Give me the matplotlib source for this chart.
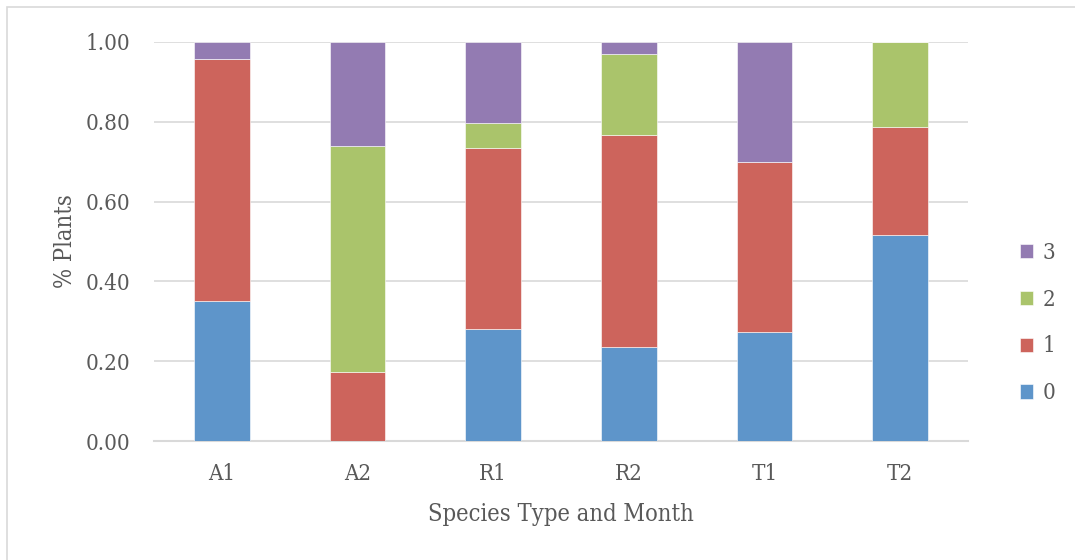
import numpy as np
import matplotlib.pyplot as plt
from matplotlib.patches import Rectangle

# Share of plants in each class, per species type and month
groups = ['A1', 'A2', 'R1', 'R2', 'T1', 'T2']
class0 = [0.351, 0.000, 0.281, 0.236, 0.273, 0.516]
class1 = [0.606, 0.173, 0.453, 0.531, 0.426, 0.271]
class2 = [0.000, 0.566, 0.063, 0.203, 0.000, 0.213]
class3 = [0.043, 0.261, 0.203, 0.030, 0.301, 0.000]

series = [('0', class0, '#5E95CA'),
          ('1', class1, '#CD645C'),
          ('2', class2, '#AAC46B'),
          ('3', class3, '#937BB2')]

plt.rcParams['font.family'] = ['DejaVu Serif']
plt.rcParams['font.stretch'] = 'condensed'
text_color = '#595959'

fig = plt.figure(figsize=(10.75, 5.6), dpi=100)
ax = fig.add_axes([154 / 1075, 1 - 441 / 560, (968 - 154) / 1075, 399 / 560])

# light frame around the chart area
fig.patches.append(Rectangle((7 / 1075, -0.1), 1.2, 1 - 7 / 560 + 0.1,
                             transform=fig.transFigure, fill=False,
                             edgecolor='#D9D9D9', linewidth=1.2))

x = np.arange(len(groups))
bottom = np.zeros(len(groups))
handles = []
for label, vals, color in series:
    vals = np.array(vals)
    h = ax.bar(x, vals, width=0.41, bottom=bottom, color=color, label=label,
               edgecolor='white', linewidth=0.4, zorder=3)
    handles.append(h)
    bottom += vals

ax.set_xlim(-0.5, len(groups) - 0.5)
ax.set_ylim(0, 1.0)
ax.set_yticks(np.arange(0, 1.01, 0.2))
ax.set_yticklabels([f'{v:.2f}' for v in np.arange(0, 1.01, 0.2)])
ax.set_xticks(x)
ax.set_xticklabels(groups)
ax.yaxis.grid(True, color='#D9D9D9', linewidth=1.2, zorder=0)
ax.set_axisbelow(True)

for side in ['top', 'right', 'left']:
    ax.spines[side].set_visible(False)
ax.spines['bottom'].set_color('#D9D9D9')
ax.spines['bottom'].set_linewidth(1.5)
ax.tick_params(axis='both', length=0, labelsize=16, colors=text_color)
ax.tick_params(axis='y', pad=17)
ax.tick_params(axis='x', pad=16)

ax.set_ylabel('% Plants', fontsize=17, color=text_color, labelpad=6)
ax.set_xlabel('Species Type and Month', fontsize=17, color=text_color, labelpad=13)

leg = fig.legend(handles[::-1], [s[0] for s in series][::-1],
                 loc='center left', bbox_to_anchor=(1009 / 1075, 1 - 323 / 560),
                 frameon=False, fontsize=16, handlelength=0.6, handleheight=0.6,
                 handletextpad=0.4, labelspacing=1.12, borderpad=0)
for t in leg.get_texts():
    t.set_color(text_color)

fig.savefig('out.png', dpi=100, facecolor='white')
